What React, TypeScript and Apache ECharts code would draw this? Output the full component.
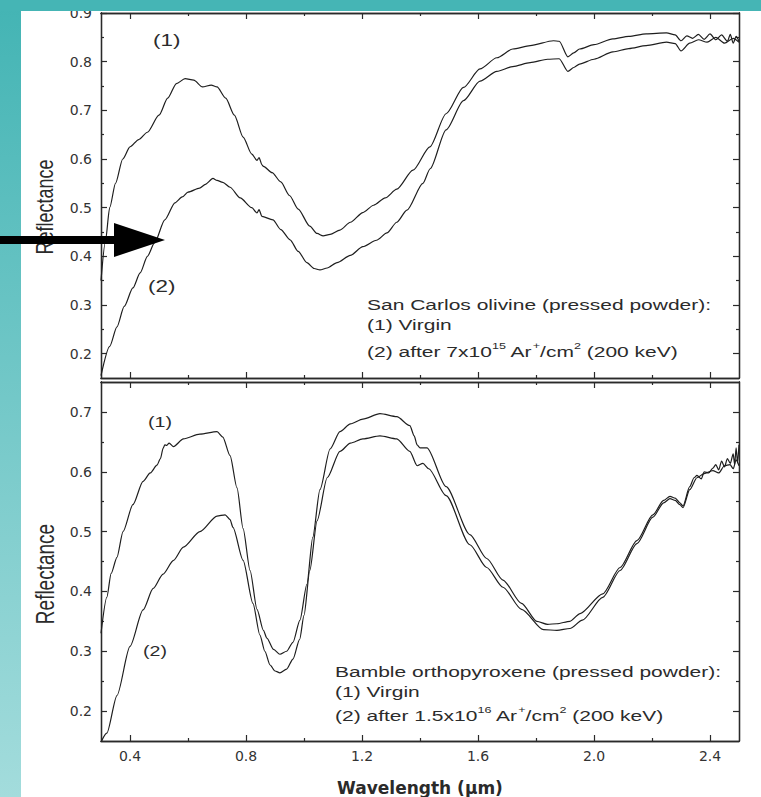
import React, { useEffect, useRef } from "react";
import * as echarts from "echarts";

// ---------- axis ticks ----------
const xMajorTicks = [0.4, 0.8, 1.2, 1.6, 2.0, 2.4];
const xMinorTicks = [0.6, 1.0, 1.4, 1.8, 2.2];
const topYMajor = [0.2, 0.3, 0.4, 0.5, 0.6, 0.7, 0.8, 0.9];
const topYMinor = [0.25, 0.35, 0.45, 0.55, 0.65, 0.75, 0.85];
const botYMajor = [0.2, 0.3, 0.4, 0.5, 0.6, 0.7];
const botYMinor = [0.25, 0.35, 0.45, 0.55, 0.65];

// ---------- San Carlos olivine, (1) virgin ----------
const olivineVirginWl = [
  0.3, 0.315, 0.33, 0.35, 0.375, 0.4, 0.43, 0.46, 0.5, 0.53, 0.56, 0.59, 0.62, 0.65, 0.68, 0.7,
  0.73, 0.76, 0.79, 0.82, 0.838, 0.845, 0.855, 0.86, 0.89, 0.92, 0.95, 0.98, 1.02, 1.045, 1.066,
  1.09, 1.124, 1.16, 1.203, 1.24, 1.28, 1.32, 1.376, 1.434, 1.49, 1.55, 1.607, 1.665, 1.72, 1.78,
  1.86, 1.88, 1.91, 1.93, 1.95, 2.0, 2.065, 2.12, 2.18, 2.25, 2.28, 2.3, 2.32, 2.34, 2.36, 2.38,
  2.4, 2.42, 2.44, 2.46, 2.47, 2.48, 2.49, 2.5,
];
const olivineVirginR = [
  0.35, 0.43, 0.5, 0.55, 0.6, 0.625, 0.64, 0.655, 0.69, 0.725, 0.755, 0.765, 0.762, 0.748, 0.752,
  0.748, 0.725, 0.69, 0.645, 0.61, 0.597, 0.603, 0.588, 0.585, 0.572, 0.553, 0.525, 0.497, 0.462,
  0.447, 0.442, 0.445, 0.454, 0.47, 0.49, 0.505, 0.52, 0.538, 0.577, 0.625, 0.693, 0.747, 0.785,
  0.808, 0.826, 0.833, 0.843, 0.842, 0.81, 0.818, 0.826, 0.835, 0.847, 0.852, 0.857, 0.859, 0.855,
  0.843, 0.853, 0.848, 0.856, 0.846, 0.857, 0.845, 0.855, 0.842, 0.856, 0.838, 0.852, 0.842,
];

// ---------- San Carlos olivine, (2) after 7x10^15 Ar+/cm2 ----------
const olivineIrrWl = [
  0.3, 0.33, 0.355, 0.38, 0.41, 0.435, 0.46, 0.485, 0.52, 0.555, 0.58, 0.6, 0.64, 0.66, 0.686, 0.7,
  0.72, 0.745, 0.78, 0.82, 0.838, 0.845, 0.855, 0.893, 0.92, 0.952, 0.98, 1.01, 1.035, 1.055, 1.08,
  1.114, 1.16, 1.203, 1.25, 1.286, 1.32, 1.355, 1.41, 1.435, 1.49, 1.55, 1.607, 1.665, 1.72, 1.78,
  1.84, 1.88, 1.91, 1.93, 1.95, 2.0, 2.065, 2.12, 2.18, 2.25, 2.28, 2.3, 2.33, 2.36, 2.39, 2.42,
  2.45, 2.48, 2.5,
];
const olivineIrrR = [
  0.155, 0.215, 0.255, 0.297, 0.335, 0.366, 0.4, 0.428, 0.475, 0.51, 0.522, 0.532, 0.54, 0.548,
  0.56, 0.556, 0.552, 0.542, 0.52, 0.5, 0.489, 0.496, 0.482, 0.475, 0.455, 0.434, 0.41, 0.387,
  0.375, 0.372, 0.376, 0.387, 0.402, 0.42, 0.433, 0.448, 0.47, 0.495, 0.55, 0.58, 0.66, 0.72,
  0.76, 0.78, 0.79, 0.798, 0.805, 0.806, 0.78, 0.788, 0.795, 0.805, 0.82, 0.827, 0.833, 0.84,
  0.837, 0.822, 0.838, 0.845, 0.84, 0.85, 0.838, 0.848, 0.84,
];

// ---------- Bamble orthopyroxene, (1) virgin ----------
const opxVirginWl = [
  0.3, 0.32, 0.335, 0.355, 0.376, 0.41, 0.445, 0.47, 0.493, 0.505, 0.514, 0.52, 0.527, 0.535,
  0.55, 0.584, 0.641, 0.7, 0.72, 0.745, 0.769, 0.79, 0.814, 0.838, 0.86, 0.872, 0.895, 0.917,
  0.94, 0.962, 0.986, 1.01, 1.03, 1.055, 1.09, 1.124, 1.16, 1.203, 1.262, 1.32, 1.365, 1.38,
  1.39, 1.4, 1.424, 1.49, 1.572, 1.63, 1.686, 1.75, 1.803, 1.84, 1.872, 1.917, 1.952, 2.03, 2.09,
  2.148, 2.203, 2.24, 2.262, 2.28, 2.296, 2.307, 2.33, 2.345, 2.355, 2.37, 2.38, 2.395, 2.41,
  2.42, 2.43, 2.44, 2.45, 2.46, 2.47, 2.48, 2.485, 2.49, 2.495, 2.5,
];
const opxVirginR = [
  0.33, 0.39, 0.43, 0.457, 0.5, 0.545, 0.584, 0.598, 0.611, 0.622, 0.639, 0.645, 0.644, 0.648,
  0.642, 0.655, 0.663, 0.667, 0.658, 0.627, 0.573, 0.505, 0.435, 0.37, 0.335, 0.322, 0.303, 0.295,
  0.3, 0.315, 0.352, 0.412, 0.49, 0.57, 0.638, 0.667, 0.68, 0.688, 0.697, 0.692, 0.677, 0.66,
  0.645, 0.64, 0.64, 0.575, 0.495, 0.455, 0.419, 0.38, 0.35, 0.345, 0.346, 0.35, 0.363, 0.396,
  0.44, 0.485, 0.528, 0.552, 0.559, 0.556, 0.548, 0.543, 0.575, 0.59, 0.594, 0.588, 0.6, 0.598,
  0.606, 0.612, 0.603, 0.618, 0.608, 0.622, 0.614, 0.63, 0.612, 0.64, 0.615, 0.645,
];

// ---------- Bamble orthopyroxene, (2) after 1.5x10^16 Ar+/cm2 ----------
const opxIrrWl = [
  0.3, 0.32, 0.355, 0.4, 0.445, 0.48, 0.514, 0.55, 0.584, 0.641, 0.7, 0.728, 0.745, 0.755, 0.79,
  0.824, 0.848, 0.865, 0.883, 0.9, 0.917, 0.94, 0.962, 0.985, 1.0, 1.02, 1.045, 1.08, 1.124, 1.16,
  1.203, 1.262, 1.32, 1.365, 1.39, 1.41, 1.43, 1.49, 1.572, 1.63, 1.686, 1.75, 1.826, 1.872,
  1.917, 1.96, 2.03, 2.09, 2.148, 2.203, 2.24, 2.262, 2.28, 2.296, 2.307, 2.33, 2.355, 2.38,
  2.41, 2.43, 2.45, 2.469, 2.48, 2.49, 2.5,
];
const opxIrrR = [
  0.148, 0.163, 0.226, 0.308, 0.369, 0.405, 0.429, 0.452, 0.474, 0.5, 0.526, 0.528, 0.52, 0.507,
  0.452, 0.38, 0.327, 0.3, 0.277, 0.267, 0.264, 0.27, 0.287, 0.32, 0.36, 0.435, 0.518, 0.59,
  0.634, 0.648, 0.655, 0.66, 0.655, 0.634, 0.61, 0.614, 0.605, 0.56, 0.478, 0.44, 0.407, 0.37,
  0.336, 0.335, 0.338, 0.352, 0.39, 0.435, 0.48, 0.524, 0.548, 0.555, 0.552, 0.545, 0.54, 0.57,
  0.59, 0.597, 0.602, 0.598, 0.61, 0.612, 0.605, 0.62, 0.61,
];

const zip = (xs: number[], ys: number[]) => xs.map((x, i) => [x, ys[i]]);

const AXIS_COLOR = "#2a2a2a";
const LABEL_FONT = "DejaVu Sans";
const ANN_FONT = '"Liberation Sans", Arial, sans-serif';
const INK = "#2b2b2b";

function xAxisDef(grid: number, pos: string, ticks: number[], len: number, labels: boolean, extra: any = {}) {
  return {
    type: "value",
    gridIndex: grid,
    position: pos,
    min: 0.3,
    max: 2.5,
    axisLine: { show: true, onZero: false, lineStyle: { color: AXIS_COLOR, width: 1.3 } },
    axisTick: { show: true, inside: true, length: len, customValues: ticks, lineStyle: { color: AXIS_COLOR, width: 1.2 } },
    axisLabel: labels
      ? {
          show: true,
          customValues: xMajorTicks,
          formatter: (v: number) => v.toFixed(1),
          fontFamily: LABEL_FONT,
          fontSize: 14,
          color: "#333",
          margin: 8,
        }
      : { show: false },
    splitLine: { show: false },
    ...extra,
  };
}

function yAxisDef(grid: number, pos: string, min: number, max: number, ticks: number[], len: number, labelVals: number[] | null) {
  return {
    type: "value",
    gridIndex: grid,
    position: pos,
    min,
    max,
    axisLine: { show: true, onZero: false, lineStyle: { color: AXIS_COLOR, width: 1.3 } },
    axisTick: { show: true, inside: true, length: len, customValues: ticks, lineStyle: { color: AXIS_COLOR, width: 1.2 } },
    axisLabel: labelVals
      ? {
          show: true,
          customValues: labelVals,
          formatter: (v: number) => v.toFixed(1),
          fontFamily: LABEL_FONT,
          fontSize: 14,
          color: "#333",
          margin: 9,
        }
      : { show: false },
    splitLine: { show: false },
  };
}

function annText(x: number, y: number, text: string, size: number, rich?: any) {
  return {
    type: "text",
    x,
    y,
    scaleX: 1.4,
    z: 50,
    style: {
      text,
      fontFamily: ANN_FONT,
      fontSize: size,
      fill: INK,
      align: "left",
      verticalAlign: "middle",
      ...(rich ? { rich } : {}),
    },
  };
}

const supRich = {
  n: { fontFamily: ANN_FONT, fontSize: 15, lineHeight: 22, verticalAlign: "middle", color: INK },
  s: { fontFamily: ANN_FONT, fontSize: 9, lineHeight: 10, verticalAlign: "top", color: INK },
};

function lineSeries(xi: number, yi: number, data: number[][]) {
  return {
    type: "line",
    xAxisIndex: xi,
    yAxisIndex: yi,
    data,
    showSymbol: false,
    smooth: 0.25,
    smoothMonotone: "x",
    lineStyle: { color: "#1e1e1e", width: 1.2 },
    z: 5,
  };
}

export default function App() {
  const ref = useRef<HTMLDivElement>(null);

  useEffect(() => {
    if (!ref.current) return;
    const chart = echarts.init(ref.current, undefined, { renderer: "svg" });

    const option: any = {
      animation: false,
      backgroundColor: "#ffffff",
      grid: [
        { left: 101, top: 13, width: 638, height: 365 },
        { left: 101, top: 382, width: 638, height: 361 },
      ],
      xAxis: [
        xAxisDef(0, "bottom", xMajorTicks, 6, false),
        xAxisDef(0, "bottom", xMinorTicks, 3, false),
        xAxisDef(0, "top", xMajorTicks, 6, false),
        xAxisDef(0, "top", xMinorTicks, 3, false),
        xAxisDef(1, "bottom", xMajorTicks, 6, true, {
          name: "Wavelength (\u03bcm)",
          nameLocation: "middle",
          nameGap: 38,
          nameTextStyle: { fontFamily: LABEL_FONT, fontWeight: "bold", fontSize: 17, color: "#2a2a2a" },
        }),
        xAxisDef(1, "bottom", xMinorTicks, 3, false),
        xAxisDef(1, "top", xMajorTicks, 6, false),
        xAxisDef(1, "top", xMinorTicks, 3, false),
      ],
      yAxis: [
        yAxisDef(0, "left", 0.15, 0.9, topYMajor, 6, topYMajor),
        yAxisDef(0, "left", 0.15, 0.9, topYMinor, 3, null),
        yAxisDef(0, "right", 0.15, 0.9, topYMajor, 6, null),
        yAxisDef(0, "right", 0.15, 0.9, topYMinor, 3, null),
        yAxisDef(1, "left", 0.15, 0.75, botYMajor, 6, botYMajor),
        yAxisDef(1, "left", 0.15, 0.75, botYMinor, 3, null),
        yAxisDef(1, "right", 0.15, 0.75, botYMajor, 6, null),
        yAxisDef(1, "right", 0.15, 0.75, botYMinor, 3, null),
      ],
      series: [
        lineSeries(0, 0, zip(olivineVirginWl, olivineVirginR)),
        lineSeries(0, 0, zip(olivineIrrWl, olivineIrrR)),
        lineSeries(4, 4, zip(opxVirginWl, opxVirginR)),
        lineSeries(4, 4, zip(opxIrrWl, opxIrrR)),
      ],
      graphic: [
        {
          type: "rect",
          z: 100,
          shape: { x: 0, y: 0, width: 21, height: 797 },
          style: {
            fill: new echarts.graphic.LinearGradient(0, 0, 0, 1, [
              { offset: 0, color: "#43b4b4" },
              { offset: 1, color: "#a3dcdc" },
            ]),
          },
        },
        { type: "rect", z: 100, shape: { x: 0, y: 0, width: 761, height: 11 }, style: { fill: "#45b5b5" } },
        {
          type: "polygon",
          z: 110,
          shape: {
            points: [
              [0, 236],
              [114, 236],
              [114, 223],
              [165, 240],
              [114, 257],
              [114, 244],
              [0, 244],
            ],
          },
          style: { fill: "#000" },
        },
        {
          type: "text",
          x: 45,
          y: 207,
          rotation: Math.PI / 2,
          scaleY: 1.35,
          z: 50,
          style: { text: "Reflectance", fontFamily: ANN_FONT, fontSize: 18, fill: INK, align: "center", verticalAlign: "middle" },
        },
        {
          type: "text",
          x: 45,
          y: 574,
          rotation: Math.PI / 2,
          scaleY: 1.35,
          z: 50,
          style: { text: "Reflectance", fontFamily: ANN_FONT, fontSize: 19, fill: INK, align: "center", verticalAlign: "middle" },
        },
        annText(153, 40, "(1)", 16),
        annText(148, 286, "(2)", 16),
        annText(148, 422, "(1)", 14),
        annText(143, 651, "(2)", 14),
        annText(367, 305, "San Carlos olivine (pressed powder):", 15),
        annText(367, 325, "(1) Virgin", 15),
        annText(
          367,
          352,
          "{n|(2) after 7x10}{s|15}{n| Ar}{s|+}{n|/cm}{s|2}{n| (200 keV)}",
          15,
          supRich
        ),
        annText(335, 672, "Bamble orthopyroxene (pressed powder):", 15),
        annText(335, 692, "(1) Virgin", 15),
        annText(
          335,
          716,
          "{n|(2) after 1.5x10}{s|16}{n| Ar}{s|+}{n|/cm}{s|2}{n| (200 keV)}",
          15,
          supRich
        ),
      ],
    };

    chart.setOption(option);
    return () => {
      chart.dispose();
    };
  }, []);

  return (
    <div
      ref={ref}
      style={{ position: "fixed", left: 0, top: 0, width: 761, height: 797 }}
    />
  );
}
